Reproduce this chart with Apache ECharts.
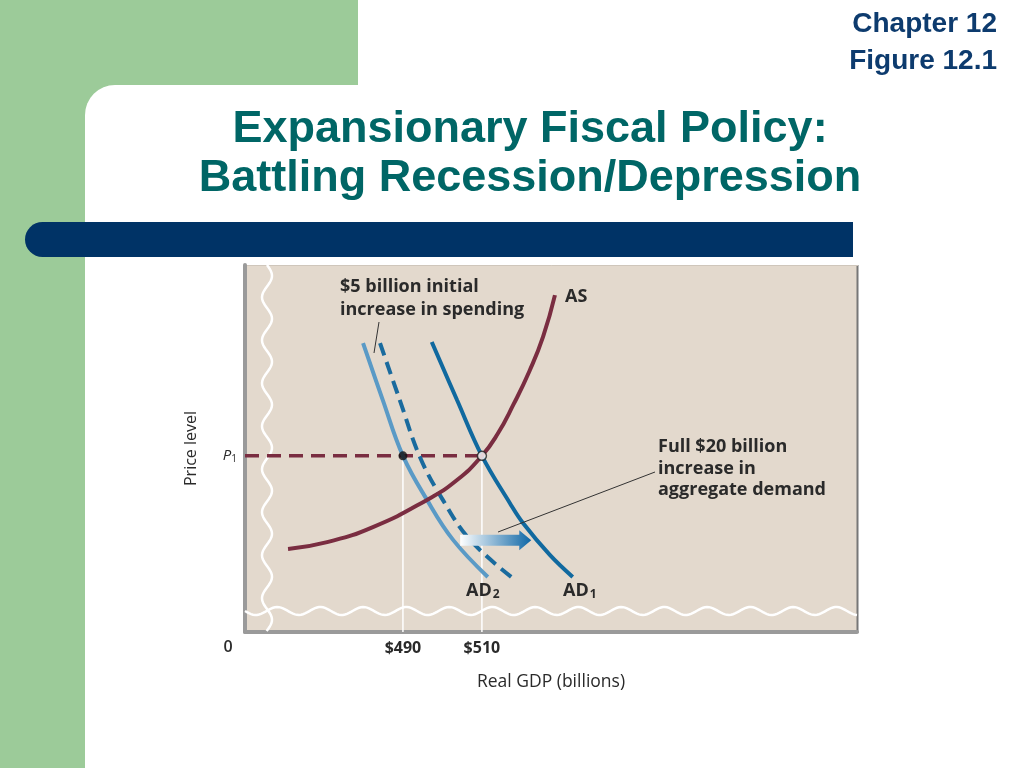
<!DOCTYPE html>
<html><head><meta charset="utf-8">
<script src="https://cdn.jsdelivr.net/npm/echarts@6/dist/echarts.min.js"></script>
<style>html,body{margin:0;padding:0;background:#fff}#c{width:1024px;height:768px}</style>
</head><body><div id="c"></div>
<script>
// ---- data (x: real GDP in $ billions, y: price level index 0-100) ----
const asCurve  = [[460.9,22.6],[470.8,24.5],[482.4,28.6],[496.1,36.0],[503.7,41.4],[510,48],[514,54],[518,62],[522,71],[525.5,80.5],[528.5,91.8]];
const ad1Curve = [[497.3,79.0],[503.7,63.2],[510,48],[517.1,35.1],[520.4,29.7],[527.2,21.0],[533.0,15.0]];
const ad2Curve = [[479.9,78.7],[484.9,63.2],[490,48],[496.1,36.0],[502.7,25.1],[511.5,15.0]];
const adInitialShift = [[484.2,78.7],[489.2,63.2],[494.3,47.7],[500.1,36.0],[507.0,25.1],[517.8,14.7]];
const priceLevelP1 = 48;
const gdpTicks = [490, 510];
const equilibriumLow = [490, 48];
const equilibriumHigh = [510, 48];
const shiftArrow = [504.5, 25, 522.5, 25];

const chart = echarts.init(document.getElementById('c'));
const G = {left:245, top:265, width:612, height:367};
const lab = '"Open Sans", Lato, sans-serif';
const title = '"Liberation Sans", Arial, sans-serif';

function wave(vertical, c, a, period, from, to){
  const pts=[];
  for(let t=from;t<=to;t+=2){
    const o=c+a*Math.sin(2*Math.PI*(t-from)/period);
    pts.push(vertical?[o,t]:[t,o]);
  }
  return pts;
}

const txt = (x,y,s,size,weight,extra) => Object.assign({type:'text', z:10, x:x, y:y,
  style:Object.assign({text:s, font:(weight||'bold')+' '+size+'px '+lab, fill:'#2a2a2a', verticalAlign:'middle'}, extra||{})});

const graphic = [
  {type:'rect', z:-10, shape:{x:0,y:0,width:358,height:768}, style:{fill:'#9ccb99'}},
  {type:'rect', z:-9, shape:{x:85,y:85,width:939,height:683,r:[30,0,0,0]}, style:{fill:'#ffffff'}},
  {type:'rect', z:-8, shape:{x:25,y:222,width:828,height:35,r:[17.5,0,0,17.5]}, style:{fill:'#003366'}},
  {type:'rect', z:-5, shape:{x:G.left,y:G.top,width:G.width,height:G.height}, style:{fill:'#e3d9cd'}},
  {type:'line', z:-4, shape:{x1:857.5,y1:265,x2:857.5,y2:633}, style:{stroke:'#777',lineWidth:2}},
  {type:'line', z:-4, shape:{x1:245,y1:265.5,x2:858,y2:265.5}, style:{stroke:'#cfc6bb',lineWidth:1}},
  {type:'polyline', z:1, shape:{points:wave(true,267,5,43,265,632)}, style:{stroke:'#ffffff',lineWidth:2.5,fill:null}},
  {type:'polyline', z:1, shape:{points:wave(false,611,4,43,245,857)}, style:{stroke:'#ffffff',lineWidth:2.5,fill:null}},
  {type:'text', z:10, x:530, y:130, style:{text:'Expansionary Fiscal Policy:', font:'bold 45px '+title, fill:'#006666', align:'center', verticalAlign:'middle'}},
  {type:'text', z:10, x:530, y:179, style:{text:'Battling Recession/Depression', font:'bold 45px '+title, fill:'#006666', align:'center', verticalAlign:'middle'}},
  {type:'text', z:10, x:997, y:24, style:{text:'Chapter 12', font:'bold 28px '+title, fill:'#0d3b6e', align:'right', verticalAlign:'middle'}},
  {type:'text', z:10, x:997, y:61, style:{text:'Figure 12.1', font:'bold 28px '+title, fill:'#0d3b6e', align:'right', verticalAlign:'middle'}},
  txt(340,287,'$5 billion initial',18),
  txt(340,310,'increase in spending',18),
  {type:'line', z:10, shape:{x1:379,y1:322,x2:374,y2:353}, style:{stroke:'#333',lineWidth:1}},
  txt(658,447,'Full $20 billion',18),
  txt(658,469,'increase in',18),
  txt(658,490,'aggregate demand',18),
  {type:'line', z:10, shape:{x1:655,y1:472,x2:498,y2:532}, style:{stroke:'#333',lineWidth:1}},
  txt(565,297,'AS',18),
  {type:'text', z:10, x:466, y:591, style:{text:'{m|AD}{s|2}', verticalAlign:'middle', rich:{m:{font:'bold 18px '+lab, fill:'#2a2a2a'}, s:{font:'bold 12px '+lab, fill:'#2a2a2a', padding:[7,0,0,1]}}}},
  {type:'text', z:10, x:563, y:591, style:{text:'{m|AD}{s|1}', verticalAlign:'middle', rich:{m:{font:'bold 18px '+lab, fill:'#2a2a2a'}, s:{font:'bold 12px '+lab, fill:'#2a2a2a', padding:[7,0,0,1]}}}},
  txt(228,647,'0',16,'600',{align:'center'})
];

const maroon = '#7a2d41';
const lineBase = {type:'line', showSymbol:false, symbol:'none', silent:true};

chart.setOption({
  animation:false,
  backgroundColor:'#ffffff',
  grid:{left:G.left, top:G.top, width:G.width, height:G.height, containLabel:false},
  xAxis:{type:'value', min:450, max:605,
    name:'Real GDP (billions)', nameLocation:'middle', nameGap:41,
    nameTextStyle:{fontFamily:'Open Sans', fontSize:17.5, color:'#2a2a2a'},
    axisLine:{show:true, lineStyle:{color:'#9a9a9a', width:4}},
    axisTick:{show:false}, splitLine:{show:false},
    axisLabel:{customValues:gdpTicks, formatter:'${value}', margin:8, fontFamily:'Open Sans', fontWeight:'bold', fontSize:16, color:'#2a2a2a'}},
  yAxis:{type:'value', min:0, max:100,
    name:'Price level', nameLocation:'middle', nameGap:46, nameRotate:90,
    nameTextStyle:{fontFamily:'Open Sans', fontSize:16, color:'#2a2a2a'},
    axisLine:{show:true, lineStyle:{color:'#9a9a9a', width:4}},
    axisTick:{show:false}, splitLine:{show:false},
    axisLabel:{customValues:[priceLevelP1], margin:8, formatter:'{p|P}{s|1}',
      rich:{p:{fontFamily:'Open Sans', fontStyle:'italic', fontSize:15, color:'#2a2a2a'}, s:{fontFamily:'Open Sans', fontSize:10, color:'#2a2a2a', padding:[6,0,0,0]}}}},
  graphic:graphic,
  series:[
    Object.assign({}, lineBase, {name:'v490', data:[[equilibriumLow[0],0],equilibriumLow], z:1, lineStyle:{color:'#ffffff', width:1.5}}),
    Object.assign({}, lineBase, {name:'v510', data:[[equilibriumHigh[0],0],equilibriumHigh], z:1, lineStyle:{color:'#ffffff', width:1.5}}),
    Object.assign({}, lineBase, {name:'P1', data:[[450,priceLevelP1],[equilibriumHigh[0],priceLevelP1]], lineStyle:{color:maroon, width:3.5, type:[14,8]}}),
    Object.assign({}, lineBase, {name:'AD2', data:ad2Curve, smooth:0.4, lineStyle:{color:'#5a9ac6', width:4}}),
    Object.assign({}, lineBase, {name:'ADshift', data:adInitialShift, smooth:0.4, lineStyle:{color:'#1a6b9e', width:4, type:[13,7]}}),
    Object.assign({}, lineBase, {name:'AD1', data:ad1Curve, smooth:0.4, lineStyle:{color:'#10699f', width:4}}),
    Object.assign({}, lineBase, {name:'AS', data:asCurve, smooth:0.5, lineStyle:{color:maroon, width:4}}),
    {type:'custom', name:'shift', silent:true, z:4, data:[shiftArrow], encode:{x:[0,2], y:[1,3]},
      renderItem:function(params, api){
        const p0 = api.coord([api.value(0), api.value(1)]);
        const p1 = api.coord([api.value(2), api.value(3)]);
        const bh=5.5, hh=10, hl=12, xb=p1[0]-hl, y=p0[1];
        return {type:'polygon', shape:{points:[[p0[0],y-bh],[xb,y-bh],[xb,y-hh],[p1[0],y],[xb,y+hh],[xb,y+bh],[p0[0],y+bh]]},
          style:{fill:new echarts.graphic.LinearGradient(0,0,1,0,[{offset:0,color:'#ffffff'},{offset:1,color:'#0f67a6'}])}};
      }},
    {type:'scatter', name:'eqLow', data:[equilibriumLow], z:5, symbolSize:9, itemStyle:{color:'#111'}, silent:true},
    {type:'scatter', name:'eqHigh', data:[equilibriumHigh], z:5, symbolSize:9, itemStyle:{color:'#ffffff', borderColor:'#222', borderWidth:1.5}, silent:true}
  ]
});
</script></body></html>
